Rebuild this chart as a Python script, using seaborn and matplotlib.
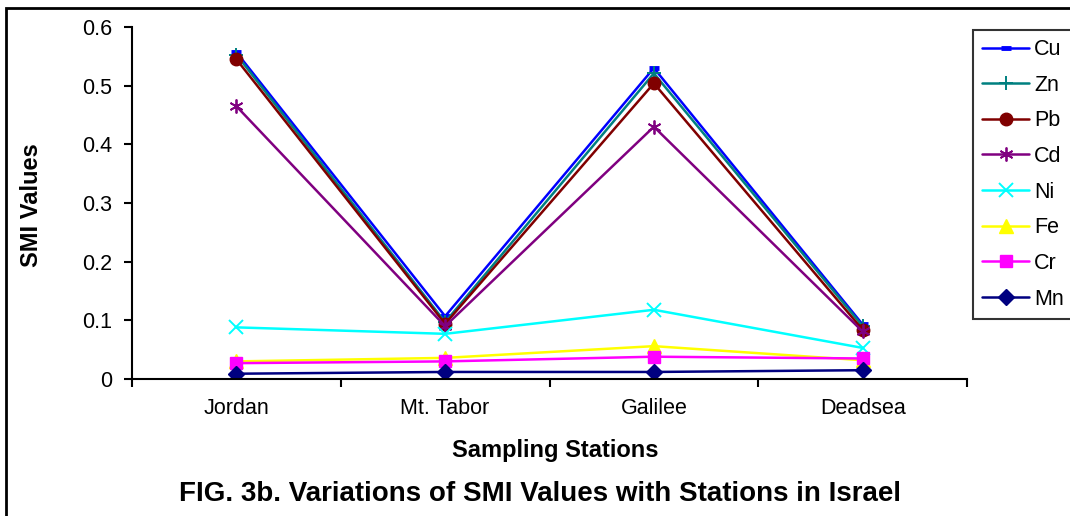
import matplotlib
matplotlib.use("Agg")
import matplotlib.pyplot as plt
import matplotlib.patches as mpatches
import seaborn as sns
import pandas as pd

stations = ["Jordan", "Mt. Tabor", "Galilee", "Deadsea"]
metals = ["Cu", "Zn", "Pb", "Cd", "Ni", "Fe", "Cr", "Mn"]
cu = [0.557, 0.107, 0.530, 0.093]
zn = [0.553, 0.097, 0.521, 0.090]
pb = [0.545, 0.094, 0.504, 0.084]
cd = [0.465, 0.090, 0.430, 0.081]
ni = [0.088, 0.077, 0.118, 0.053]
fe = [0.030, 0.036, 0.056, 0.032]
cr = [0.027, 0.030, 0.038, 0.035]
mn = [0.009, 0.012, 0.012, 0.015]
series = [cu, zn, pb, cd, ni, fe, cr, mn]

colors = ["#0000FF", "#008080", "#800000", "#800080", "#00FFFF", "#FFFF00", "#FF00FF", "#000080"]
markers = ["_", "+", "o", (6, 2, 0), "x", "^", "s", "D"]
msizes = [7, 10, 9, 10, 10, 10, 8, 8]
mews = [3.5, 1.4, 1, 1.3, 1.4, 1, 1, 1]

rows = []
for m, vals in zip(metals, series):
    for s, v in zip(stations, vals):
        rows.append({"Station": s, "Metal": m, "SMI": v})
df = pd.DataFrame(rows)

sns.set_style("white")
plt.rcParams["font.family"] = ["Liberation Sans", "DejaVu Sans"]
plt.rcParams["text.color"] = "black"
plt.rcParams["axes.labelcolor"] = "black"
plt.rcParams["xtick.color"] = "black"
plt.rcParams["ytick.color"] = "black"

fig = plt.figure(figsize=(10.7, 5.16), dpi=100)
ax = fig.add_axes([132/1070, 1-379/516, (967-132)/1070, (379-27)/516])

for m, c, mk, ms, mew in zip(metals, colors, markers, msizes, mews):
    sub = df[df["Metal"] == m]
    sns.lineplot(data=sub, x="Station", y="SMI", ax=ax, color=c, marker=mk,
                 markersize=ms, markeredgewidth=mew, markeredgecolor=c,
                 markerfacecolor=c, linewidth=1.8, label=m, sort=False)

ax.set_xlim(-0.5, 3.5)
ax.set_ylim(0, 0.6)
ax.set_yticks([0, 0.1, 0.2, 0.3, 0.4, 0.5, 0.6])
ax.set_yticklabels(["0", "0.1", "0.2", "0.3", "0.4", "0.5", "0.6"], fontsize=15.5)
ax.set_xticks([-0.5, 0.5, 1.5, 2.5, 3.5])
ax.set_xticklabels([])
ax.set_xticks([0, 1, 2, 3], minor=True)
ax.set_xticklabels(stations, minor=True, fontsize=15.5)
ax.tick_params(axis="x", which="major", direction="out", length=6, width=1.5, color="black", bottom=True)
ax.tick_params(axis="x", which="minor", length=0, pad=14)
ax.tick_params(axis="y", direction="out", length=6, width=1.5, color="black", left=True, pad=8)
for side in ["top", "right"]:
    ax.spines[side].set_visible(False)
for side in ["left", "bottom"]:
    ax.spines[side].set_color("black")
    ax.spines[side].set_linewidth(1.5)

ax.set_xlabel("Sampling Stations", fontsize=17, fontweight="bold")
ax.xaxis.set_label_coords((555-132)/835, (379-450)/352)
ax.xaxis.label.set_va("center")
ax.set_ylabel("SMI Values", fontsize=17, fontweight="bold")
ax.yaxis.set_label_coords((32-132)/835, 0.494)
ax.yaxis.label.set_va("center")

leg = ax.legend(loc="upper left", bbox_to_anchor=(973/1070, 1-30/516),
                bbox_transform=fig.transFigure, frameon=True, fancybox=False,
                fontsize=15.5, handlelength=2.2, handletextpad=0.22,
                labelspacing=0.68, borderpad=0.42, borderaxespad=0)
leg.get_frame().set_edgecolor("black")
leg.get_frame().set_linewidth(1.5)

fig.text(540/1070, 1-494/516, "FIG. 3b. Variations of SMI Values with Stations in Israel",
         ha="center", va="center", fontsize=20, fontweight="bold")

border = mpatches.Rectangle((6/1070, -0.1), 1.2, 1.1 - 8/516, transform=fig.transFigure,
                            fill=False, edgecolor="black", linewidth=2)
fig.patches.append(border)

fig.savefig("out.png", dpi=100)
